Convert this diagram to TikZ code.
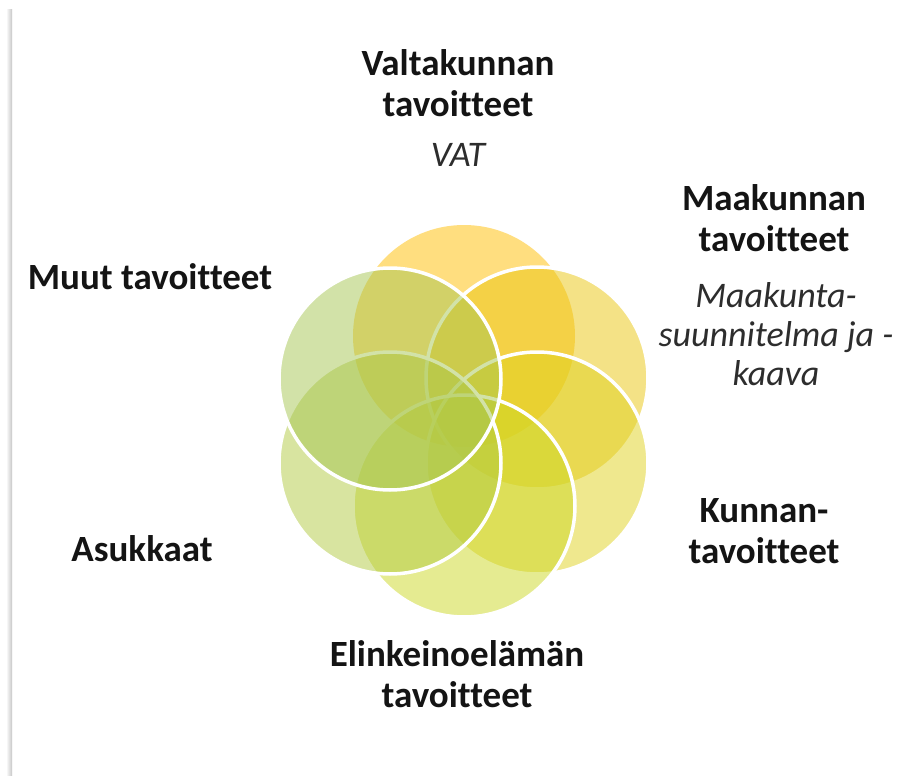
\documentclass[tikz,border=0pt]{standalone}
\usepackage{fontspec}
\setmainfont[Ligatures=CommonOff]{Carlito}
\definecolor{cTop}{RGB}{255,190,0}
\definecolor{cUR}{RGB}{234,198,15}
\definecolor{cRL}{RGB}{224,210,30}
\definecolor{cBot}{RGB}{204,216,36}
\definecolor{cLL}{RGB}{178,202,66}
\definecolor{cUL}{RGB}{166,198,82}
\definecolor{txt}{RGB}{20,20,20}
\definecolor{sub}{RGB}{45,45,45}
\tikzset{
  petal/.style={fill=#1, fill opacity=0.5, draw=white, line width=3.5pt},
  petalnoline/.style={fill=#1, fill opacity=0.5},
  head/.style={align=center, text=txt, font=\fontsize{37}{41}\selectfont\bfseries, inner sep=0pt},
  subhead/.style={align=center, text=sub, font=\fontsize{36}{39}\selectfont\itshape, inner sep=0pt},
}
\begin{document}
\begin{tikzpicture}[x=1pt,y=-1pt]
\useasboundingbox (0,0) rectangle (911,776);
\fill[white] (0,0) rectangle (911,776);
% left shadow strip
\shade[left color=white, right color=black!22] (6,10) rectangle (12,776);
% petals
\coordinate (cT) at (464,336);
\coordinate (cUR) at (537,378);
\coordinate (cRL) at (537,463);
\coordinate (cB) at (464,506);
\coordinate (cLL) at (390,463);
\coordinate (cUL) at (390,379);
\path[petalnoline=cTop] (cT) circle (111);
\path[petal=cUR] (cUR) circle (111);
\path[petal=cRL] (cRL) circle (111);
\path[petal=cBot] (cB) circle (111);
\path[petal=cLL] (cLL) circle (111);
\path[petal=cUL] (cUL) circle (111);
% labels
\node[head] (valt) at (458,83) {Valtakunnan\\tavoitteet};
\node[subhead] (vat) at (458,155) {VAT};
\node[head] (maak) at (774,218) {Maakunnan\\tavoitteet};
\node[subhead] (maakk) at (776,334) {Maakunta-\\suunnitelma ja -\\kaava};
\node[head] (muut) at (150,277) {Muut tavoitteet};
\node[head] (kunn) at (764,531) {Kunnan-\\tavoitteet};
\node[head] (asuk) at (142,549) {Asukkaat};
\node[head] (elin) at (457,674) {Elinkeinoelämän\\tavoitteet};
\end{tikzpicture}
\end{document}
